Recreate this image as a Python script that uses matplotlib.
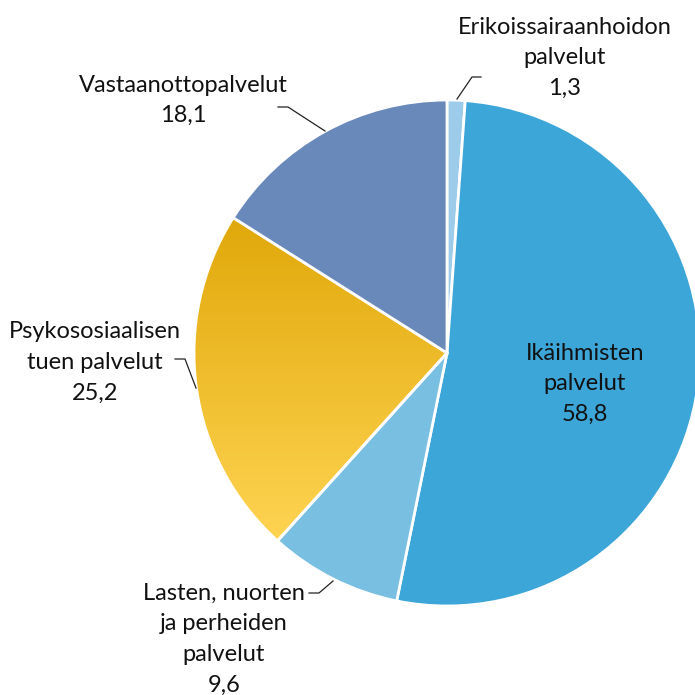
import numpy as np
import matplotlib
matplotlib.use("Agg")
import matplotlib.pyplot as plt
from matplotlib.colors import LinearSegmentedColormap

plt.rcParams['font.family'] = ['Lato', 'DejaVu Sans']

# data, clockwise from 12 o'clock
labels = ["Erikoissairaanhoidon\npalvelut", "Ikäihmisten\npalvelut",
          "Lasten, nuorten\nja perheiden\npalvelut",
          "Psykososiaalisen\ntuen palvelut", "Vastaanottopalvelut"]
values = [1.3, 58.8, 9.6, 25.2, 18.1]
colors = ["#9DCBEA", "#3DA6D8", "#78BFE2", "#E8B62A", "#6A89BB"]

W = H = 695
fig = plt.figure(figsize=(6.95, 6.95), dpi=100)
ax = fig.add_axes([0, 0, 1, 1])

cx, cy, r = 447, H - 353, 253
wedges, _ = ax.pie(values, colors=colors, startangle=90, counterclock=False,
                   center=(cx, cy), radius=r,
                   wedgeprops=dict(edgecolor="white", linewidth=2))
ax.set_aspect("equal")
ax.axis("off")

# vertical gold gradient on the psychosocial wedge
gw = wedges[3]
gw.set_facecolor("none")
ext = gw.get_path().get_extents()
cmap = LinearSegmentedColormap.from_list("gold", ["#FFD452", "#E0A80A"])
grad = np.linspace(0, 1, 256).reshape(-1, 1)
im = ax.imshow(grad, cmap=cmap, origin="lower", aspect="auto",
               extent=(ext.x0, ext.x1, ext.y0, ext.y1), zorder=gw.get_zorder() - 0.1)
im.set_clip_path(gw)
ax.set_xlim(0, W)
ax.set_ylim(0, H)

fs = 17
step = 30.7

def fmt(v):
    return f"{v:.1f}".replace(".", ",")

def lab(x, y, s):
    # one text per line so the spacing can follow the reference
    for i, line in enumerate(s.split("\n")):
        ax.text(x, H - (y + i * step), line, ha="center", va="center",
                fontsize=fs, color="#111111")

lab(565, 27, labels[0] + "\n" + fmt(values[0]))
lab(585, 353, labels[1] + "\n" + fmt(values[1]))
lab(224, 593, labels[2] + "\n" + fmt(values[2]))
lab(95, 332, labels[3] + "\n" + fmt(values[3]))
lab(183, 85, labels[4] + "\n" + fmt(values[4]))

# leader lines
leaders = [
    [(457, 99), (472, 77), (481, 77)],
    [(333, 581), (319, 593), (309, 593)],
    [(196, 388), (185, 359), (175, 359)],
    [(325, 131), (288, 107), (278, 107)],
]
for pts in leaders:
    xs = [p[0] for p in pts]
    ys = [H - p[1] for p in pts]
    ax.plot(xs, ys, color="#222222", lw=0.9)

fig.savefig("out.png", dpi=100)
